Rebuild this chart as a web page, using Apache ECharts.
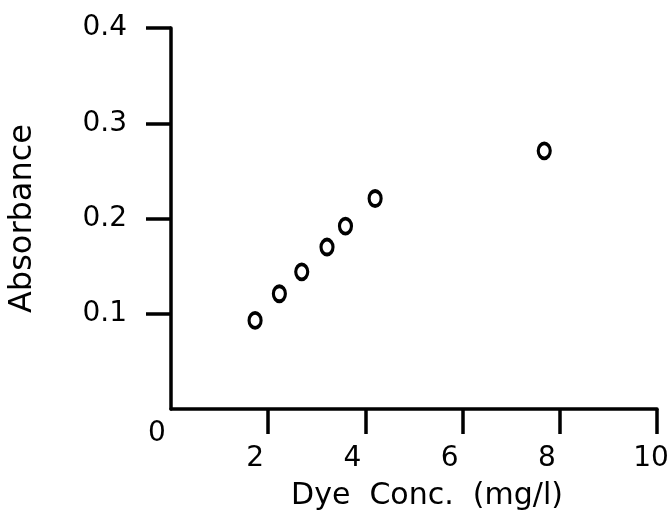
<!DOCTYPE html>
<html>
<head>
<meta charset="utf-8">
<script src="https://cdn.jsdelivr.net/npm/echarts@6/dist/echarts.min.js"></script>
<style>
  body { margin: 0; background: #fff; }
</style>
</head>
<body>
<div id="myChart" style="width:671px;height:515px"></div>
<script>
var dyeConc = [1.73, 2.23, 2.69, 3.21, 3.59, 4.20, 7.68]
var absorbance = [0.093, 0.121, 0.144, 0.170, 0.192, 0.221, 0.271]
var xTicks = [0, 2, 4, 6, 8, 10]
var yTicks = [0, 0.1, 0.2, 0.3, 0.4]

var points = dyeConc.map(function (x, i) { return [x, absorbance[i]] })

var font = 'DejaVu Sans'
var axisLine = { lineStyle: { color: '#000', width: 3.5 } }

var myChart = echarts.init(document.getElementById('myChart'))

myChart.setOption({
  animation: false,
  grid: { left: 171, right: 14, top: 28, bottom: 106, containLabel: false, outerBoundsMode: 'none' },
  xAxis: {
    type: 'value',
    min: xTicks[0],
    max: xTicks[xTicks.length - 1],
    interval: 2,
    splitLine: { show: false },
    axisLine: axisLine,
    axisTick: {
      show: true, length: 25,
      customValues: xTicks.slice(1),
      lineStyle: { color: '#000', width: 3.5 }
    },
    axisLabel: {
      margin: 11,
      color: '#000',
      fontFamily: font,
      fontSize: 28,
      customValues: xTicks,
      formatter: function (v) {
        if (v === 0) return '{z|0}'
        if (v === 10) return '{t|10}'
        return '{n|' + v + '}'
      },
      rich: {
        z: { fontFamily: font, fontSize: 28, color: '#000', padding: [0, 28, 0, 0] },
        n: { fontFamily: font, fontSize: 28, color: '#000', padding: [25, 26, 0, 0] },
        t: { fontFamily: font, fontSize: 28, color: '#000', padding: [25, 12, 0, 0] }
      }
    },
    name: 'Dye  Conc.  (mg/l)',
    nameLocation: 'middle',
    nameGap: 72,
    nameTextStyle: { color: '#000', fontFamily: font, fontSize: 30, padding: [0, 0, 0, 26] }
  },
  yAxis: {
    type: 'value',
    min: yTicks[0],
    max: yTicks[yTicks.length - 1],
    interval: 0.1,
    splitLine: { show: false },
    axisLine: axisLine,
    axisTick: {
      show: true, length: 25,
      customValues: yTicks.slice(1),
      lineStyle: { color: '#000', width: 3.5 }
    },
    axisLabel: {
      margin: 44,
      color: '#000',
      fontFamily: font,
      fontSize: 28,
      customValues: yTicks.slice(1),
      formatter: function (v) { return v.toFixed(1) }
    },
    name: 'Absorbance',
    nameLocation: 'middle',
    nameGap: 132,
    nameTextStyle: { color: '#000', fontFamily: font, fontSize: 32 }
  },
  series: [{
    type: 'scatter',
    data: points,
    symbol: 'circle',
    symbolSize: [12, 15],
    itemStyle: { color: '#fff', borderColor: '#000', borderWidth: 3.5, opacity: 1 }
  }]
})
</script>
</body>
</html>
